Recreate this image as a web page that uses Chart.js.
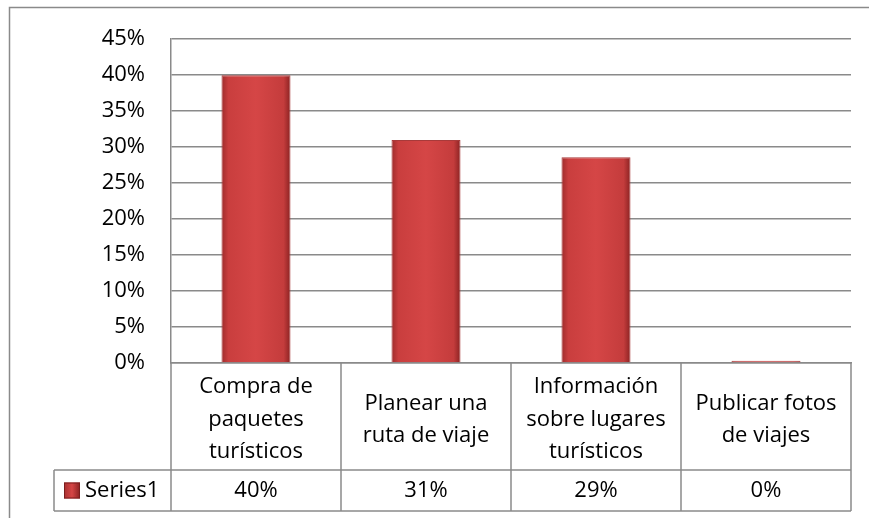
<!DOCTYPE html>
<html>
<head>
<meta charset="utf-8">
<script src="https://cdn.jsdelivr.net/npm/chart.js@4.4.0/dist/chart.umd.min.js"></script>
<style>
  body { margin: 0; background: #fff; }
  canvas { display: block; }
</style>
</head>
<body>
<canvas id="grafico" width="869" height="518"></canvas>
<script>
// datos
var categorias = [
	["Compra de", "paquetes", "turísticos"],
	["Planear una", "ruta de viaje"],
	["Información", "sobre lugares", "turísticos"],
	["Publicar fotos", "de viajes"]
];
var serie1 = [0.40, 0.31, 0.286, 0.003];
var nombreSerie = "Series1";
var ticksY = [0, 0.05, 0.10, 0.15, 0.20, 0.25, 0.30, 0.35, 0.40, 0.45];

var fuente = "'Open Sans', 'DejaVu Sans', sans-serif";
var gris = "#8a8a8a";
var anchoBarra = 0.406;

var pct = function (v) {
	return Math.round(v * 100) + "%";
};

// degradado rojo horizontal para cada barra
var rellenoBarra = function (c) {
	var chart = c.chart;
	var x = chart.scales.x;
	if (!x || !chart.chartArea) return "#cf4242";
	var catW = (chart.chartArea.right - chart.chartArea.left) / categorias.length;
	var cx = x.getPixelForValue(c.dataIndex);
	var w = catW * anchoBarra;
	var g = chart.ctx.createLinearGradient(cx - w / 2, 0, cx + w / 2, 0);
	g.addColorStop(0, "#9e2c2c");
	g.addColorStop(0.1, "#c93e3e");
	g.addColorStop(0.5, "#d54646");
	g.addColorStop(0.9, "#c43c3c");
	g.addColorStop(1, "#8a2222");
	return g;
};

var tablaDatos = {
	id: "tablaDatos",
	beforeDraw: function (chart) {
		var ctx = chart.ctx;
		ctx.save();
		ctx.strokeStyle = gris;
		ctx.lineWidth = 1.5;
		ctx.strokeRect(9.5, 7.5, chart.width + 20, chart.height + 20);
		ctx.restore();
	},
	afterDraw: function (chart) {
		var ctx = chart.ctx;
		var area = chart.chartArea;
		var x = chart.scales.x;
		var n = categorias.length;
		var catW = (area.right - area.left) / n;
		var abajo = x.bottom;
		var filaArriba = abajo - 41;
		var izqFila = 54;

		ctx.save();
		ctx.strokeStyle = gris;
		ctx.lineWidth = 1.5;
		ctx.beginPath();
		for (var i = 0; i <= n; i++) {
			var bx = area.left + i * catW;
			ctx.moveTo(bx, area.bottom);
			ctx.lineTo(bx, abajo);
		}
		ctx.moveTo(izqFila, filaArriba);
		ctx.lineTo(area.right, filaArriba);
		ctx.moveTo(izqFila, abajo);
		ctx.lineTo(area.right, abajo);
		ctx.moveTo(izqFila, filaArriba);
		ctx.lineTo(izqFila, abajo);
		ctx.stroke();

		// clave de la leyenda
		var ky = (filaArriba + abajo) / 2;
		var g = ctx.createLinearGradient(64, 0, 80, 0);
		g.addColorStop(0, "#a83030");
		g.addColorStop(0.5, "#d54646");
		g.addColorStop(1, "#8a2222");
		ctx.fillStyle = g;
		ctx.fillRect(64, ky - 8, 16, 16);
		ctx.strokeStyle = "#7a1e1e";
		ctx.lineWidth = 1;
		ctx.strokeRect(64.5, ky - 7.5, 15, 15);

		ctx.fillStyle = "#000";
		ctx.font = "22px " + fuente;
		ctx.textBaseline = "middle";
		ctx.textAlign = "left";
		ctx.fillText(nombreSerie, 85, ky);
		ctx.textAlign = "center";
		for (var j = 0; j < n; j++) {
			ctx.fillText(pct(serie1[j]), x.getPixelForValue(j), ky);
		}
		ctx.restore();
	}
};

new Chart(document.getElementById("grafico"), {
	type: "bar",
	data: {
		labels: categorias,
		datasets: [
			{
				label: nombreSerie,
				data: serie1,
				backgroundColor: rellenoBarra,
				borderColor: "#a83a3a",
				borderWidth: 1,
				categoryPercentage: 1,
				barPercentage: anchoBarra
			}
		]
	},
	options: {
		responsive: false,
		animation: false,
		layout: { padding: { top: 39, right: 18, bottom: 7, left: 0 } },
		plugins: {
			legend: { display: false },
			tooltip: { enabled: false }
		},
		scales: {
			x: {
				grid: { display: false },
				border: { display: true, color: gris, width: 1.5 },
				afterFit: function (s) { s.height = 148; },
				ticks: {
					color: "#000",
					font: { family: fuente, size: 22, lineHeight: 1.48 },
					padding: 16,
					maxRotation: 0,
					autoSkip: false,
					crossAlign: "center"
				}
			},
			y: {
				min: 0,
				max: 0.45,
				afterFit: function (s) { s.width = 171; },
				afterBuildTicks: function (s) {
					s.ticks = ticksY.map(function (v) { return { value: v }; });
				},
				grid: { color: gris, lineWidth: 1.5, drawTicks: false },
				border: { display: true, color: gris, width: 1.5 },
				ticks: {
					color: "#000",
					font: { family: fuente, size: 22 },
					padding: 26,
					callback: function (v) { return pct(v); }
				}
			}
		}
	},
	plugins: [tablaDatos]
});
</script>
</body>
</html>
